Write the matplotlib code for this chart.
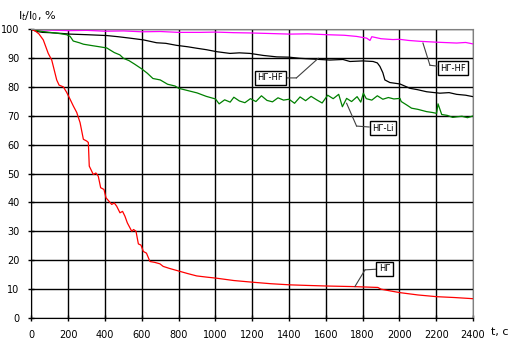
import matplotlib.pyplot as plt

# НГ (red)
t_ng = [0, 20, 40, 64, 91, 110, 137, 150, 173, 191, 209, 227, 246, 264, 282, 300, 309, 314,
        336, 350, 363, 376, 394, 405, 420, 436, 450, 463, 481, 495, 508, 521, 545, 555, 568,
        581, 595, 608, 625, 644, 670, 698, 716, 750, 789, 850, 898, 950, 1007, 1100, 1205,
        1300, 1405, 1500, 1604, 1749, 1883, 1900, 1950, 2003, 2100, 2202, 2300, 2400]
v_ng = [100, 99.5, 98.5, 96.4, 91.7, 89.4, 82.5, 80.7, 80.1, 78.2, 75.9, 73.5, 71.2, 67.7, 61.9,
        61.3, 60.8, 52.6, 49.7, 50.2, 49.1, 45.1, 44.5, 41.6, 40.5, 39.3, 39.8, 38.7, 36.4, 36.9,
        35.2, 32.9, 30.0, 30.6, 30.0, 25.6, 25.2, 23.0, 22.4, 19.5, 19.2, 18.7, 17.8, 17.1, 16.4,
        15.3, 14.5, 14.1, 13.7, 12.9, 12.3, 11.8, 11.4, 11.2, 11.0, 10.8, 10.5, 9.9, 9.3, 8.7,
        7.9, 7.3, 7.0, 6.6]

# НГ-НF (black)
t_hf = [0, 30, 60, 100, 150, 209, 300, 409, 470, 535, 608, 680, 730, 789, 850, 898, 950, 1007,
        1079, 1130, 1188, 1260, 1333, 1400, 1459, 1540, 1622, 1693, 1731, 1800, 1857, 1880, 1894,
        1910, 1921, 1948, 2003, 2057, 2100, 2148, 2220, 2270, 2311, 2360, 2400]
v_hf = [100, 99.3, 99.0, 98.9, 98.7, 98.4, 98.2, 97.9, 97.5, 97.0, 96.4, 95.4, 95.2, 94.5, 94.0,
        93.5, 93.0, 92.3, 91.7, 91.9, 91.7, 91.0, 90.5, 90.4, 90.0, 89.7, 89.4, 89.6, 88.9, 89.1,
        88.9, 88.4, 87.2, 85.0, 82.5, 81.6, 81.1, 79.6, 79.1, 78.4, 77.9, 78.1, 77.5, 77.2, 76.7]

# НГ-НF (magenta)
t_hf2 = [0, 100, 200, 300, 400, 500, 600, 700, 800, 917, 1000, 1100, 1188, 1300, 1405, 1500,
         1604, 1700, 1767, 1822, 1840, 1850, 1900, 1965, 2000, 2050, 2112, 2200, 2311, 2360, 2400]
v_hf2 = [100, 99.8, 99.6, 99.7, 99.4, 99.5, 99.2, 99.3, 99.0, 99.0, 99.1, 98.9, 98.8, 98.6, 98.4,
         98.5, 98.2, 98.0, 97.6, 97.0, 96.2, 97.5, 96.8, 96.5, 96.6, 96.2, 95.9, 95.6, 95.3, 95.5,
         95.0]

# НГ-Li (green)
t_li = [0, 50, 100, 150, 191, 210, 227, 260, 282, 330, 370, 409, 450, 480, 500, 530, 560, 600,
        630, 660, 700, 740, 780, 800, 850, 900, 950, 1000, 1020, 1050, 1080, 1100, 1130, 1160,
        1190, 1220, 1250, 1280, 1310, 1340, 1370, 1400, 1430, 1460, 1490, 1520, 1550, 1580,
        1610, 1640, 1670, 1690, 1713, 1740, 1770, 1790, 1804, 1820, 1850, 1880, 1910, 1940,
        1970, 2003, 2010, 2040, 2066, 2100, 2148, 2180, 2202, 2210, 2230, 2260, 2290, 2311,
        2340, 2370, 2400]
v_li = [100, 99.4, 99.0, 98.6, 98.2, 97.6, 96.0, 95.4, 94.9, 94.4, 94.0, 93.6, 92.0, 91.2, 90.0,
        89.2, 88.0, 86.3, 84.8, 83.0, 82.5, 81.0, 80.4, 79.6, 78.8, 78.0, 76.8, 75.9, 74.2, 75.6,
        74.8, 76.5, 75.2, 74.6, 76.0, 75.0, 77.0, 75.4, 74.9, 76.3, 75.5, 75.8, 74.4, 76.6, 75.3,
        76.8, 75.6, 74.5, 77.2, 76.0, 77.5, 73.2, 76.1, 75.0, 76.7, 74.8, 77.9, 76.0, 75.5, 77.0,
        75.8, 76.4, 75.9, 76.1, 75.0, 73.8, 72.7, 72.3, 71.5, 71.2, 70.9, 74.2, 70.5, 70.2, 69.5,
        69.7, 69.9, 69.4, 70.0]

xticks = list(range(0, 2401, 200))
yticks = list(range(0, 101, 10))

fig = plt.figure(figsize=(5.13, 3.47), dpi=100)
ax = fig.add_axes([0.0614, 0.0844, 0.8606, 0.8306])

ax.plot(t_hf2, v_hf2, color='#ff00ff', lw=0.9)
ax.plot(t_hf, v_hf, color='black', lw=0.9)
ax.plot(t_li, v_li, color='#008000', lw=0.9)
ax.plot(t_ng, v_ng, color='red', lw=0.9)

ax.set_xlim(0, 2400)
ax.set_ylim(0, 100)
ax.set_xticks(xticks)
ax.set_yticks(yticks)
ax.grid(True, color='black', lw=1.0)
ax.set_axisbelow(True)
ax.tick_params(direction='inout', length=5, width=1, labelsize=7, pad=6)
for s in ['top', 'right']:
    ax.spines[s].set_color('#808080')
for s in ['left', 'bottom']:
    ax.spines[s].set_color('black')

fig.text(0.035, 0.955, r'I$_t$/I$_0$, %', fontsize=8, ha='left', va='center')
fig.text(0.975, 0.043, 't, c', fontsize=8, ha='center', va='center')

box = dict(boxstyle='square,pad=0.3', fc='white', ec='black', lw=1)
lead = dict(arrowstyle='-', color='#404040', lw=0.8, shrinkA=0, shrinkB=0)

def label(text, tip, knee, pos):
    ax.plot([tip[0], knee[0]], [tip[1], knee[1]], color='#404040', lw=0.8)
    ax.annotate(text, xy=knee, xytext=pos, fontsize=6, ha='center', va='center',
                bbox=box, arrowprops=lead)

label('НГ-НF', (2128, 95.3), (2166, 87.6), (2291, 86.6))
label('НГ-НF', (1559, 90.0), (1440, 83.2), (1299, 83.2))
label('НГ-Li', (1713, 74.4), (1767, 66.5), (1911, 65.8))
label('НГ', (1758, 10.8), (1813, 16.6), (1920, 17.0))

fig.savefig('out.png', dpi=100)
